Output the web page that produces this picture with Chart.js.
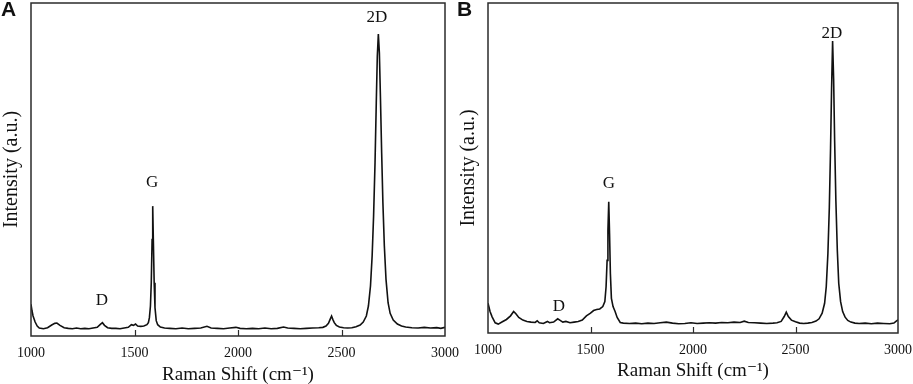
<!DOCTYPE html>
<html>
<head>
<meta charset="utf-8">
<script src="https://cdn.jsdelivr.net/npm/chart.js@4.4.1/dist/chart.umd.min.js"></script>
<style>
  html,body{margin:0;padding:0;background:#fff;}
  body{width:913px;height:384px;position:relative;overflow:hidden;}
  .panel{position:absolute;top:0;height:384px;}
  .tag{position:absolute;top:-3px;font-family:"Liberation Sans",Arial,sans-serif;font-weight:bold;font-size:21px;color:#111;}
</style>
</head>
<body>
<div class="panel" id="wa" style="left:0;width:460px;"><canvas id="ca"></canvas></div>
<div class="panel" id="wb" style="left:455px;width:458px;"><canvas id="cb"></canvas></div>
<div class="tag" style="left:1px;">A</div>
<div class="tag" style="left:457px;">B</div>
<script>
// ---- Panel A spectrum (Raman shift, relative intensity) ----
const shiftA = [1000,1005,1010,1020,1030,1040,1060,1080,1100,1115,1125,1140,1160,1180,1200,1220,1240,1260,1280,1300,
  1320,1335,1345,1355,1370,1390,1410,1430,1450,1470,1485,1495,1505,1515,1530,1545,1560,1567,1572,1577,
  1581,1585,1588,1591,1595,1599,1605,1612,1625,1645,1670,1700,1730,1760,1790,1820,1850,1870,1900,1930,
  1960,1990,2010,2040,2070,2100,2130,2160,2190,2220,2240,2270,2300,2330,2360,2390,2410,2425,2437,2445,
  2452,2458,2465,2475,2490,2510,2530,2550,2570,2590,2605,2620,2630,2640,2648,2655,2662,2668,2673,2678,
  2683,2688,2694,2700,2707,2715,2725,2735,2750,2770,2790,2810,2840,2870,2900,2930,2960,2980,3000];
const intensityA = [9.5,7.5,6.0,4.2,3.0,2.4,2.2,2.5,3.3,3.8,3.9,3.2,2.5,2.3,2.2,2.4,2.2,2.3,2.2,2.4,
  2.6,3.5,4.0,3.2,2.5,2.3,2.3,2.2,2.4,2.6,3.4,3.2,3.6,3.0,2.9,3.0,3.4,4.0,5.5,9.0,
  16,29,39,29,16,8.5,4.6,3.4,2.7,2.4,2.3,2.2,2.4,2.2,2.3,2.4,2.9,2.4,2.3,2.2,
  2.4,2.6,2.3,2.2,2.3,2.2,2.4,2.2,2.3,2.7,2.4,2.3,2.2,2.3,2.4,2.5,2.6,3.0,3.8,5.0,
  6.0,5.0,4.0,3.2,2.7,2.5,2.4,2.5,2.8,3.3,4.2,6.0,9.0,15,24,36,52,70,84,90.7,
  85,72,55,40,27,17,10,6.8,4.8,3.6,3.0,2.7,2.5,2.4,2.6,2.4,2.5,2.3,2.6];

// ---- Panel B spectrum ----
const shiftB = [1000,1010,1020,1035,1050,1070,1090,1110,1125,1135,1150,1170,1190,1210,1230,1240,1250,1270,1290,1300,
  1320,1340,1350,1365,1380,1400,1420,1440,1460,1480,1500,1515,1530,1545,1560,1570,1576,1581,1585,1589,
  1593,1597,1602,1610,1620,1630,1645,1660,1690,1720,1750,1780,1810,1840,1870,1900,1930,1960,1990,2020,
  2050,2080,2110,2140,2170,2200,2230,2250,2270,2300,2330,2360,2390,2410,2430,2445,2455,2465,2480,2500,
  2520,2540,2560,2580,2600,2615,2630,2642,2650,2658,2665,2671,2676,2681,2686,2691,2697,2704,2711,2720,
  2730,2742,2755,2770,2790,2810,2840,2870,2900,2930,2960,2980,2990,3000];
const intensityB = [9.0,6.5,4.9,3.1,2.7,3.4,4.1,5.2,6.5,5.9,4.7,3.9,3.5,3.3,3.2,3.7,3.1,2.9,3.5,3.1,
  3.3,4.3,3.9,3.3,3.5,3.1,3.3,3.5,3.9,5.2,6.0,6.8,7.1,7.3,8.0,9.5,14,22,31,39.8,
  30,18,10.5,8.0,6.5,4.7,3.2,3.0,2.9,3.0,2.8,3.0,2.9,3.1,3.3,3.0,2.8,2.9,3.1,2.9,
  3.0,3.1,3.0,3.2,3.1,3.3,3.2,3.6,3.2,3.1,3.0,2.9,3.0,3.1,3.5,5.0,6.3,5.0,3.9,3.4,
  3.0,2.9,3.0,3.2,3.6,4.3,6.0,9.0,14,24,38,56,74,88.5,77,58,40,25,15,9.5,
  6.5,4.8,3.8,3.3,3.0,2.9,3.0,2.8,3.0,2.9,2.8,3.0,3.5,4.0];

// ---- axis ticks and text ----
const xTicks = [1000,1500,2000,2500,3000];
const xTitle = 'Raman Shift (cm\u207B\u00B9)';
const yTitle = 'Intensity (a.u.)';
const peakNames = ['D','G','2D'];
const peakLabelShiftA = [1343,1585,2671];
const peakLabelLevelA = [10.8,46.2,95.5];
const peakLabelShiftB = [1346,1590,2678];
const peakLabelLevelB = [7.9,45.2,90.8];

const SERIF = '"Liberation Serif","DejaVu Serif",serif';

function toPoints(xs, ys){ return xs.map((x,i)=>({x:x,y:ys[i]})); }

const framePlugin = {
  id:'frame',
  afterDraw(chart){
    const {ctx, chartArea:a, scales} = chart;
    ctx.save();
    ctx.strokeStyle = '#2b2b2b';
    ctx.lineWidth = 1.5;
    ctx.strokeRect(a.left, a.top, a.right-a.left, a.bottom-a.top);
    // inner tick marks on bottom axis
    ctx.lineWidth = 1.2;
    const xs = scales.x;
    xs.ticks.forEach(t=>{
      if (t.value <= xs.min || t.value >= xs.max) return;
      const px = Math.round(xs.getPixelForValue(t.value))+0.5;
      ctx.beginPath(); ctx.moveTo(px, a.bottom); ctx.lineTo(px, a.bottom-6); ctx.stroke();
    });
    // peak labels
    const lab = chart.options.plugins.frame;
    ctx.fillStyle = '#111';
    ctx.font = '17px ' + SERIF;
    ctx.textAlign = 'center';
    ctx.textBaseline = 'middle';
    lab.names.forEach((n,i)=>{
      ctx.fillText(n, xs.getPixelForValue(lab.xs[i]), scales.y.getPixelForValue(lab.ys[i]));
    });
    ctx.restore();
  }
};

function makeChart(id, xs, ys, pad, xHeight, titleBottom, lx, ly){
  return new Chart(document.getElementById(id), {
    type:'line',
    data:{datasets:[{data:toPoints(xs,ys), borderColor:'#111', borderWidth:1.6, pointRadius:0, tension:0, fill:false}]},
    options:{
      responsive:true, maintainAspectRatio:false, animation:false,
      layout:{padding:pad},
      plugins:{legend:{display:false}, tooltip:{enabled:false},
        frame:{names:peakNames, xs:lx, ys:ly}},
      scales:{
        x:{type:'linear', min:1000, max:3000,
          afterBuildTicks(s){ s.ticks = xTicks.map(v=>({value:v})); },
          grid:{display:true, drawOnChartArea:false, drawTicks:true, tickLength:8, tickColor:'rgba(0,0,0,0)', color:'rgba(0,0,0,0)'},
          border:{display:false},
          ticks:{color:'#111', font:{family:SERIF, size:14}, padding:1, maxRotation:0, autoSkip:false,
                 callback:v=>String(v)},
          title:{display:true, text:xTitle, color:'#111', font:{family:SERIF, size:19, lineHeight:1}, padding:{top:0,bottom:titleBottom}},
          afterFit(s){ s.height = xHeight; }
        },
        y:{min:0, max:100,
          grid:{display:false, drawTicks:false},
          border:{display:false},
          ticks:{display:false},
          title:{display:true, text:yTitle, color:'#111', font:{family:SERIF, size:20, lineHeight:1}, padding:{top:2,bottom:0}},
          afterFit(s){ s.width = 31; }
        }
      }
    },
    plugins:[framePlugin]
  });
}

makeChart('ca', shiftA, intensityA, {left:0, right:15, top:3, bottom:0}, 48, -1, peakLabelShiftA, peakLabelLevelA);
makeChart('cb', shiftB, intensityB, {left:2, right:15, top:3, bottom:0}, 51, 3, peakLabelShiftB, peakLabelLevelB);
</script>
</body>
</html>
